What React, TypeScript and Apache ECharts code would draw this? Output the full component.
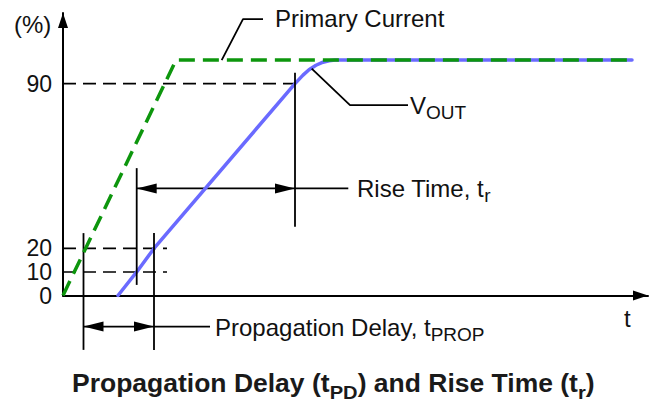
import { useEffect, useRef } from 'react';
import * as echarts from 'echarts';

// ---- data (time in arbitrary units, level in %) ----
const primaryTime = [0, 113, 569];
const primaryPct = [0, 100, 100];
const voutTime = [55, 73.7, 91, 232, 240, 246, 253, 260, 266, 272, 569];
const voutPct = [0, 10, 20, 90, 93.6, 95.9, 97.8, 99.1, 99.7, 100, 100];
const yTickLabels = [0, 10, 20, 90];

// dashed reference levels
const levelPct = [90, 20, 10];
const levelEndTime = [239, 104, 104];

// vertical marker lines
const markerTime = [20.5, 73.7, 91, 232];
const markerTopPct = [26.5, 54.1, 26.5, 94.6];
const markerBottomPct = [-23.1, 4.5, -23.1, 29.2];

// double-headed interval arrows (rise time, propagation delay)
const spanStartTime = [73.7, 20.5];
const spanEndTime = [232, 91];
const spanPct = [45.5, -13.2];
const spanTailEndTime = [285.3, 147];

// leader lines for the curve labels
const primaryLeaderTime = [158.7, 180, 200];
const primaryLeaderPct = [100, 117.4, 117.4];
const voutLeaderTime = [248.7, 287, 345];
const voutLeaderPct = [96.4, 80.9, 80.9];

const FONT = "'Liberation Sans', Arial, Helvetica, sans-serif";
const INK = '#111';

const pts = (xs: number[], ys: number[]) => xs.map((x, i) => [x, ys[i]]);

const seg = (data: number[][], lineStyle: any) => ({
  type: 'line',
  data,
  symbol: 'none',
  showSymbol: false,
  clip: false,
  silent: true,
  lineStyle,
});

const labelRich = {
  m: { fontSize: 24, lineHeight: 40, fontFamily: FONT, fill: INK, verticalAlign: 'middle' },
  s: { fontSize: 19, lineHeight: 20, padding: [14, 0, 0, 0], fontFamily: FONT, fill: INK, verticalAlign: 'middle' },
};
const titleRich = {
  b: { fontSize: 25, lineHeight: 44, fontWeight: 'bold', fontFamily: FONT, fill: '#1a1a1a', verticalAlign: 'middle' },
  bs: { fontSize: 19, lineHeight: 22, padding: [18, 0, 0, 0], fontWeight: 'bold', fontFamily: FONT, fill: '#1a1a1a', verticalAlign: 'middle' },
};

const text = (x: number, y: number, str: string, rich?: any, extra: any = {}) => ({
  type: 'text',
  x,
  y,
  silent: true,
  ...extra,
  style: {
    text: str,
    fontSize: 24,
    fontFamily: FONT,
    fill: INK,
    align: 'left',
    verticalAlign: 'middle',
    rich,
  },
});

export default function App() {
  const ref = useRef<HTMLDivElement>(null);

  useEffect(() => {
    if (!ref.current) return;
    const chart = echarts.init(ref.current, undefined, { renderer: 'svg' });

    const refDash = { color: '#000', width: 1.6, type: [13, 7] };
    const solid = { color: '#000', width: 1.8, type: 'solid' };

    const series: any[] = [];
    levelPct.forEach((p, i) => series.push(seg([[0, p], [levelEndTime[i], p]], refDash)));
    series.push(
      seg(pts(voutTime, voutPct), { color: '#6a6aff', width: 3.5, type: 'solid', cap: 'round' })
    );
    markerTime.forEach((t, i) =>
      series.push(seg([[t, markerTopPct[i]], [t, markerBottomPct[i]]], solid))
    );
    spanEndTime.forEach((t, i) =>
      series.push(seg([[t, spanPct[i]], [spanTailEndTime[i], spanPct[i]]], solid))
    );
    series.push(seg(pts(primaryLeaderTime, primaryLeaderPct), solid));
    series.push(seg(pts(voutLeaderTime, voutLeaderPct), solid));
    series.push({
      type: 'custom',
      silent: true,
      clip: false,
      data: spanStartTime.map((t, i) => [t, spanEndTime[i], spanPct[i]]),
      encode: { x: [0, 1], y: 2 },
      renderItem: (_p: any, api: any) => {
        const a = api.coord([api.value(0), api.value(2)]);
        const b = api.coord([api.value(1), api.value(2)]);
        const L = 20;
        const W = 5;
        return {
          type: 'group',
          children: [
            { type: 'line', shape: { x1: a[0], y1: a[1], x2: b[0], y2: b[1] }, style: { stroke: '#000', lineWidth: 1.8 } },
            { type: 'polygon', shape: { points: [[a[0], a[1]], [a[0] + L, a[1] - W], [a[0] + L, a[1] + W]] }, style: { fill: '#000' } },
            { type: 'polygon', shape: { points: [[b[0], b[1]], [b[0] - L, b[1] - W], [b[0] - L, b[1] + W]] }, style: { fill: '#000' } },
          ],
        };
      },
    });
    series.push(
      seg(pts(primaryTime, primaryPct), { color: '#0d960d', width: 3.5, type: [16, 8] })
    );

    chart.setOption({
      animation: false,
      backgroundColor: '#fff',
      grid: { left: 63, right: 6, top: 13, bottom: 106.5, containLabel: false },
      xAxis: {
        type: 'value',
        min: 0,
        max: 585,
        axisLine: {
          show: true,
          onZero: false,
          symbol: ['none', 'triangle'],
          symbolSize: [10, 15],
          symbolOffset: [0, -7.5],
          lineStyle: { color: '#000', width: 2 },
        },
        axisTick: { show: false },
        axisLabel: { show: false },
        splitLine: { show: false },
      },
      yAxis: {
        type: 'value',
        min: 0,
        max: 120,
        interval: 10,
        axisLine: {
          show: true,
          onZero: false,
          symbol: ['none', 'triangle'],
          symbolSize: [10, 15],
          symbolOffset: [0, -7.5],
          lineStyle: { color: '#000', width: 2 },
        },
        axisTick: { show: false },
        splitLine: { show: false },
        axisLabel: {
          show: true,
          showMinLabel: true,
          hideOverlap: false,
          margin: 11,
          fontSize: 23,
          lineHeight: 22,
          fontFamily: FONT,
          color: INK,
          formatter: (v: number) => (yTickLabels.includes(v) ? String(v) : ''),
        },
      },
      series,
      graphic: [
        text(14, 24, '(%)'),
        text(275, 18, 'Primary Current'),
        text(410, 105, '{m|V}{s|OUT}', labelRich),
        text(357, 188, '{m|Rise Time, t}{s|r}', labelRich),
        text(215, 327, '{m|Propagation Delay, t}{s|PROP}', labelRich),
        text(624, 318, 't'),
        text(72, 383.5, '{b|Propagation Delay (t}{bs|PD}{b|) and Rise Time (t}{bs|r}{b|)}', titleRich, { scaleX: 1.06 }),
      ],
    });

    return () => chart.dispose();
  }, []);

  return (
    <div
      ref={ref}
      style={{ position: 'fixed', left: 0, top: 0, width: 654, height: 402, background: '#fff' }}
    />
  );
}
